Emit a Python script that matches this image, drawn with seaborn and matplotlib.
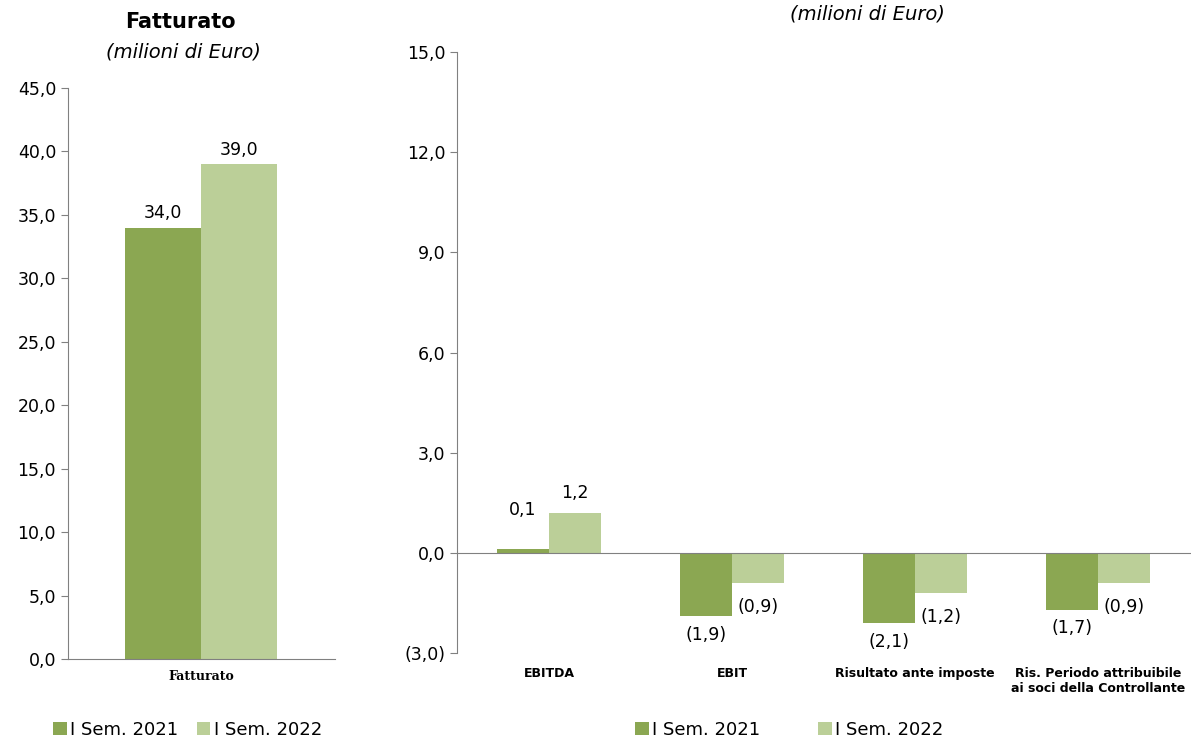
import pandas as pd
import numpy as np
import matplotlib
matplotlib.use('Agg')
import matplotlib.pyplot as plt
import seaborn as sns

# data
periodi = ['I Sem. 2021', 'I Sem. 2022']
voci_fatt = ['Fatturato']
fatt_2021 = [34.0]
fatt_2022 = [39.0]

voci_risultati = ['EBITDA', 'EBIT', 'Risultato ante imposte',
                  'Ris. Periodo attribuibile\nai soci della Controllante']
ris_2021 = [0.1, -1.9, -2.1, -1.7]
ris_2022 = [1.2, -0.9, -1.2, -0.9]

dark_green = '#8BA752'
light_green = '#BBCF98'
gray = '#808080'

sns.set_style('white')
plt.rcParams['font.family'] = ['DejaVu Sans']
plt.rcParams['text.color'] = 'black'
plt.rcParams['xtick.color'] = 'black'
plt.rcParams['ytick.color'] = 'black'


def fmt(v):
    s = f"{abs(v):.1f}".replace('.', ',')
    return f"({s})" if v < 0 else s


def long_table(voci, a, b):
    return pd.DataFrame({
        'Voce': voci * 2,
        'Periodo': [periodi[0]] * len(voci) + [periodi[1]] * len(voci),
        'Valore': a + b,
    })


df_fatt = long_table(voci_fatt, fatt_2021, fatt_2022)
df_ris = long_table(voci_risultati, ris_2021, ris_2022)

fig = plt.figure(figsize=(11.91, 7.40), dpi=100)
ax1 = fig.add_axes([0.057, 0.1095, 0.224, 0.7715])
ax2 = fig.add_axes([0.384, 0.1176, 0.615, 0.812])

# left panel: Fatturato
sns.barplot(data=df_fatt, x='Voce', y='Valore', hue='Periodo',
            palette=[dark_green, light_green], width=0.57, saturation=1,
            linewidth=0, ax=ax1)
handles, labels = ax1.get_legend_handles_labels()
ax1.get_legend().remove()
for cont in ax1.containers:
    ax1.bar_label(cont, labels=[fmt(v) for v in cont.datavalues],
                  padding=4, fontsize=12.5, color='black')
ax1.set_ylim(0, 45)
ax1.set_yticks(np.arange(0, 45.1, 5))
ax1.set_yticklabels([fmt(v) for v in np.arange(0, 45.1, 5)], fontsize=12.5)
ax1.set_xlim(-0.5, 0.5)
ax1.set_xticks([0])
ax1.set_xticklabels(['Fatturato'], family='DejaVu Serif', fontweight='bold', fontsize=9)
ax1.set_xticks([-0.5, 0.5], minor=True)
ax1.tick_params(axis='x', which='major', length=0, pad=8)
ax1.tick_params(axis='x', which='minor', length=4, color=gray, direction='out')
ax1.tick_params(axis='y', length=5, color=gray, direction='out', left=True)
ax1.set_xlabel('')
ax1.set_ylabel('')
sns.despine(ax=ax1)
for sp in ['left', 'bottom']:
    ax1.spines[sp].set_color(gray)

# right panel: margins
sns.barplot(data=df_ris, x='Voce', y='Valore', hue='Periodo',
            palette=[dark_green, light_green], width=0.57, saturation=1,
            linewidth=0, ax=ax2)
ax2.get_legend().remove()
pads_pos = [22, 8]
pads_neg = [7, 11]
for k, cont in enumerate(ax2.containers):
    vals = cont.datavalues
    ax2.bar_label(cont, labels=[fmt(v) if v >= 0 else '' for v in vals],
                  padding=pads_pos[k], fontsize=12.5, color='black')
    ax2.bar_label(cont, labels=[fmt(v) if v < 0 else '' for v in vals],
                  padding=pads_neg[k], fontsize=12.5, color='black')
ax2.set_ylim(-3, 15)
yt = np.arange(-3, 15.1, 3)
ax2.set_yticks(yt)
ax2.set_yticklabels([fmt(v) for v in yt], fontsize=12.5)
ax2.set_xlim(-0.5, 3.5)
ax2.set_xticks([])
ax2.set_xticks(np.arange(-0.5, 3.6, 1), minor=True)
ax2.tick_params(axis='x', which='minor', length=5, color=gray, direction='out')
ax2.tick_params(axis='y', length=5, color=gray, direction='out', left=True)
ax2.set_xlabel('')
ax2.set_ylabel('')
sns.despine(ax=ax2)
ax2.spines['bottom'].set_position(('data', 0))
for sp in ['left', 'bottom']:
    ax2.spines[sp].set_color(gray)
for i, voce in enumerate(voci_risultati):
    ax2.annotate(voce, xy=(i, -3), xytext=(0, -10), textcoords='offset points',
                 ha='center', va='top', fontsize=9, fontweight='bold',
                 linespacing=1.2)

# titles
fig.text(180 / 1191, 1 - 22 / 740, 'Fatturato', ha='center', va='center',
         fontsize=15, fontweight='bold')
fig.text(183 / 1191, 1 - 52 / 740, '(milioni di Euro)', ha='center', va='center',
         fontsize=14, style='italic')
fig.text(867 / 1191, 1 - 14 / 740, '(milioni di Euro)', ha='center', va='center',
         fontsize=14, style='italic')

# legends
leg_kw = dict(ncol=2, frameon=False, fontsize=13, handlelength=0.75,
              handleheight=0.75, handletextpad=0.2, columnspacing=1.0,
              loc='center left', borderaxespad=0)
fig.legend(handles, labels, bbox_to_anchor=(46 / 1191, 1 - 730 / 740), **leg_kw)
leg_kw['columnspacing'] = 3.2
fig.legend(handles, labels, bbox_to_anchor=(628 / 1191, 1 - 730 / 740), **leg_kw)

fig.savefig('out.png', dpi=100)
